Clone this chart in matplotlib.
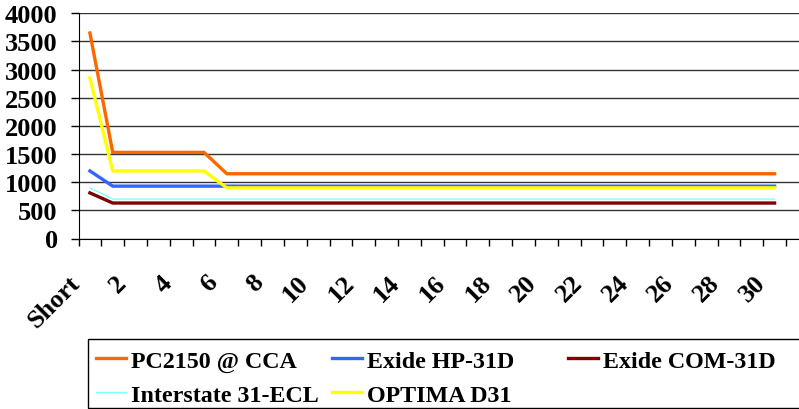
import matplotlib
matplotlib.use('Agg')
import matplotlib.pyplot as plt
import matplotlib.transforms as mtransforms
from matplotlib.patches import Rectangle
import numpy as np

plt.rcParams['font.family'] = 'Liberation Serif'
plt.rcParams['font.weight'] = 'bold'

categories = ['Short'] + [str(i) for i in range(1, 31)]

pc2150     = [3650, 1530, 1530, 1530, 1530, 1530,
              1150, 1150, 1150, 1150, 1150, 1150, 1150, 1150, 1150, 1150, 1150, 1150, 1150,
              1150, 1150, 1150, 1150, 1150, 1150, 1150, 1150, 1150, 1150, 1150, 1150]
exide_hp   = [1200, 930, 930, 930, 930, 930, 930, 930, 930, 930, 930, 930, 930, 930, 930, 930,
              930, 930, 930, 930, 930, 930, 930, 930, 930, 930, 930, 930, 930, 930, 930]
exide_com  = [810, 630, 630, 630, 630, 630, 630, 630, 630, 630, 630, 630, 630, 630, 630, 630,
              630, 630, 630, 630, 630, 630, 630, 630, 630, 630, 630, 630, 630, 630, 630]
interstate = [900, 700, 700, 700, 700, 700, 700, 700, 700, 700, 700, 700, 700, 700, 700, 700,
              700, 700, 700, 700, 700, 700, 700, 700, 700, 700, 700, 700, 700, 700, 700]
optima     = [2850, 1200, 1200, 1200, 1200, 1200,
              900, 900, 900, 900, 900, 900, 900, 900, 900, 900, 900, 900, 900,
              900, 900, 900, 900, 900, 900, 900, 900, 900, 900, 900, 900]

names = ['PC2150 @ CCA', 'Exide HP-31D', 'Exide COM-31D', 'Interstate 31-ECL', 'OPTIMA D31']
colors = ['#FF6600', '#3366FF', '#800000', '#7FFFFF', '#FFFF00']
widths = [2.4, 2.4, 2.4, 1.0, 2.4]
series = [pc2150, exide_hp, exide_com, interstate, optima]

fig = plt.figure(figsize=(7.99, 4.10), dpi=100)
ax = fig.add_axes([78.5/799, 1-239.5/410, 1-78.5/799, (239.5-14.3)/410])

x = np.arange(len(categories))
lines = []
for vals, c, lw, nm in zip(series, colors, widths, names):
    ln, = ax.plot(x, vals, color=c, lw=lw, label=nm, solid_joinstyle='miter')
    lines.append(ln)

ax.set_ylim(0, 4000)
ax.set_xlim(-0.5, 30.5 + 13/22.82)
ax.set_yticks(np.arange(0, 4001, 500))
ax.yaxis.grid(True, color='#333333', lw=1.0)
ax.set_axisbelow(True)
for s in ['top', 'right']:
    ax.spines[s].set_visible(False)
ax.spines['left'].set_color('black')
ax.spines['bottom'].set_color('black')

ax.tick_params(axis='y', length=6, width=1, pad=9, labelsize=19)
show = [i for i in x if i % 2 == 0]
ax.set_xticks(show, [categories[i] for i in show])
ax.set_xticks(np.arange(-0.5, 31, 1), minor=True)
ax.tick_params(axis='x', which='major', length=0, pad=23, labelsize=19)
ax.tick_params(axis='x', which='minor', length=5, width=1)
off = mtransforms.ScaledTranslation(-5/100, 0, fig.dpi_scale_trans)
for lab in ax.get_xticklabels():
    lab.set_rotation(45)
    lab.set_ha('right')
    lab.set_va('top')
    lab.set_transform(lab.get_transform() + off)

# legend frame, Excel-like equal columns
fig.patches.append(Rectangle((88/799, 1-409/410), 1.0, (409-340)/410, transform=fig.transFigure,
                             fill=False, edgecolor='black', lw=1.0))
cols = [[lines[0], lines[3]], [lines[1], lines[4]], [lines[2]]]
xs = [96, 332, 568]
for hs, xp in zip(cols, xs):
    lg = fig.legend(handles=hs, loc='upper left', bbox_to_anchor=(xp/799, 1-351/410),
                    frameon=False, borderpad=0, borderaxespad=0, handlelength=1.25,
                    handletextpad=0.2, labelspacing=0.5, prop={'size': 17.3, 'weight': 'bold'})

fig.savefig('out.png', dpi=100)
